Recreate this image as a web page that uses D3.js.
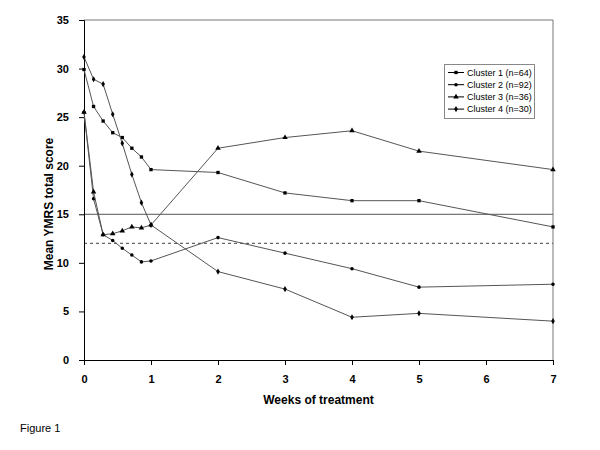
<!DOCTYPE html>
<html><head><meta charset="utf-8">
<script src="https://cdn.jsdelivr.net/npm/d3@7"></script>
<style>body{margin:0;background:#fff}svg{display:block;font-family:"Liberation Sans",Arial,sans-serif}</style>
</head><body><svg id="c" width="600" height="450"></svg>
<script>
const weeks = [0, 1/7, 2/7, 3/7, 4/7, 5/7, 6/7, 1, 2, 3, 4, 5, 7];
const seriesNames = ["Cluster 1 (n=64)", "Cluster 2 (n=92)", "Cluster 3 (n=36)", "Cluster 4 (n=30)"];
const cluster1 = [29.9, 26.1, 24.6, 23.4, 22.9, 21.8, 20.9, 19.6, 19.3, 17.2, 16.4, 16.4, 13.7];
const cluster2 = [25.5, 16.6, 12.9, 12.3, 11.5, 10.8, 10.1, 10.2, 12.6, 11.0, 9.4, 7.5, 7.8];
const cluster3 = [25.5, 17.3, 12.9, 13.0, 13.3, 13.7, 13.6, 13.9, 21.8, 22.9, 23.6, 21.5, 19.6];
const cluster4 = [31.2, 28.9, 28.4, 25.3, 22.3, 19.1, 16.2, 13.9, 9.1, 7.3, 4.4, 4.8, 4.0];
const xTicks = [0, 1, 2, 3, 4, 5, 6, 7];
const yTicks = [0, 5, 10, 15, 20, 25, 30, 35];
const solidRef = 15, dashedRef = 12;
const symbols = [d3.symbolSquare, d3.symbolCircle, d3.symbolTriangle, d3.symbolDiamond];
const symSizes = [11, 10, 13, 11];

const svg = d3.select("#c");
const x = d3.scaleLinear().domain([0, 7]).range([84, 553]);
const y = d3.scaleLinear().domain([0, 35]).range([360, 20]);
const lineCol = "#555";

// frame top/right
svg.append("line").attr("x1", x(0)).attr("x2", x(7)).attr("y1", y(35)).attr("y2", y(35)).attr("stroke", "#777");
svg.append("line").attr("x1", x(7)).attr("x2", x(7)).attr("y1", y(35)).attr("y2", y(0)).attr("stroke", "#777");

// reference lines
svg.append("line").attr("x1", x(0)).attr("x2", x(7)).attr("y1", y(solidRef)).attr("y2", y(solidRef)).attr("stroke", "#555");
svg.append("line").attr("x1", x(0)).attr("x2", x(7)).attr("y1", y(dashedRef)).attr("y2", y(dashedRef)).attr("stroke", "#666").attr("stroke-width", 1.3).attr("stroke-dasharray", "3,3");

// axes
const xAxis = svg.append("g").attr("transform", `translate(0,${y(0)})`)
  .call(d3.axisBottom(x).tickValues(xTicks).tickFormat(d3.format("d")).tickSize(5).tickPadding(10));
const yAxis = svg.append("g").attr("transform", `translate(${x(0)},0)`)
  .call(d3.axisLeft(y).tickValues(yTicks).tickSize(5).tickPadding(10));
[xAxis, yAxis].forEach(g => {
  g.selectAll("path,line").attr("stroke", "#000");
  g.selectAll("text").attr("font-size", 11).attr("font-weight", "bold").attr("fill", "#000").attr("font-family", '"Liberation Sans",Arial,sans-serif');
});

// series
const all = [cluster1, cluster2, cluster3, cluster4];
const line = d3.line().x((d, i) => x(weeks[i])).y(d => y(d));
all.forEach((vals, k) => {
  svg.append("path").datum(vals).attr("d", line).attr("fill", "none").attr("stroke", lineCol).attr("stroke-width", 1);
  svg.append("g").selectAll("path").data(vals).join("path")
    .attr("transform", (d, i) => `translate(${x(weeks[i])},${y(d)})`)
    .attr("d", d3.symbol().type(symbols[k]).size(symSizes[k])).attr("fill", "#000");
});

// axis titles
svg.append("text").attr("transform", `translate(53,204) rotate(-90)`).attr("text-anchor", "middle")
  .attr("font-size", 12).attr("font-weight", "bold").text("Mean YMRS total score");
svg.append("text").attr("x", (x(0)+x(7))/2).attr("y", 404).attr("text-anchor", "middle")
  .attr("font-size", 12).attr("font-weight", "bold").text("Weeks of treatment");
svg.append("text").attr("x", 20).attr("y", 432).attr("font-size", 11).text("Figure 1");

// legend
const lg = svg.append("g");
lg.append("rect").attr("x", 444.5).attr("y", 64.5).attr("width", 90).attr("height", 54).attr("fill", "#fff").attr("stroke", "#888");
seriesNames.forEach((n, k) => {
  const yy = 72.5 + k * 12.2;
  lg.append("line").attr("x1", 448).attr("x2", 464).attr("y1", yy).attr("y2", yy).attr("stroke", "#000");
  lg.append("path").attr("transform", `translate(456,${yy})`).attr("d", d3.symbol().type(symbols[k]).size(symSizes[k])).attr("fill", "#000");
  lg.append("text").attr("x", 467).attr("y", yy + 3.2).attr("font-size", 9).text(n);
});
</script></body></html>
